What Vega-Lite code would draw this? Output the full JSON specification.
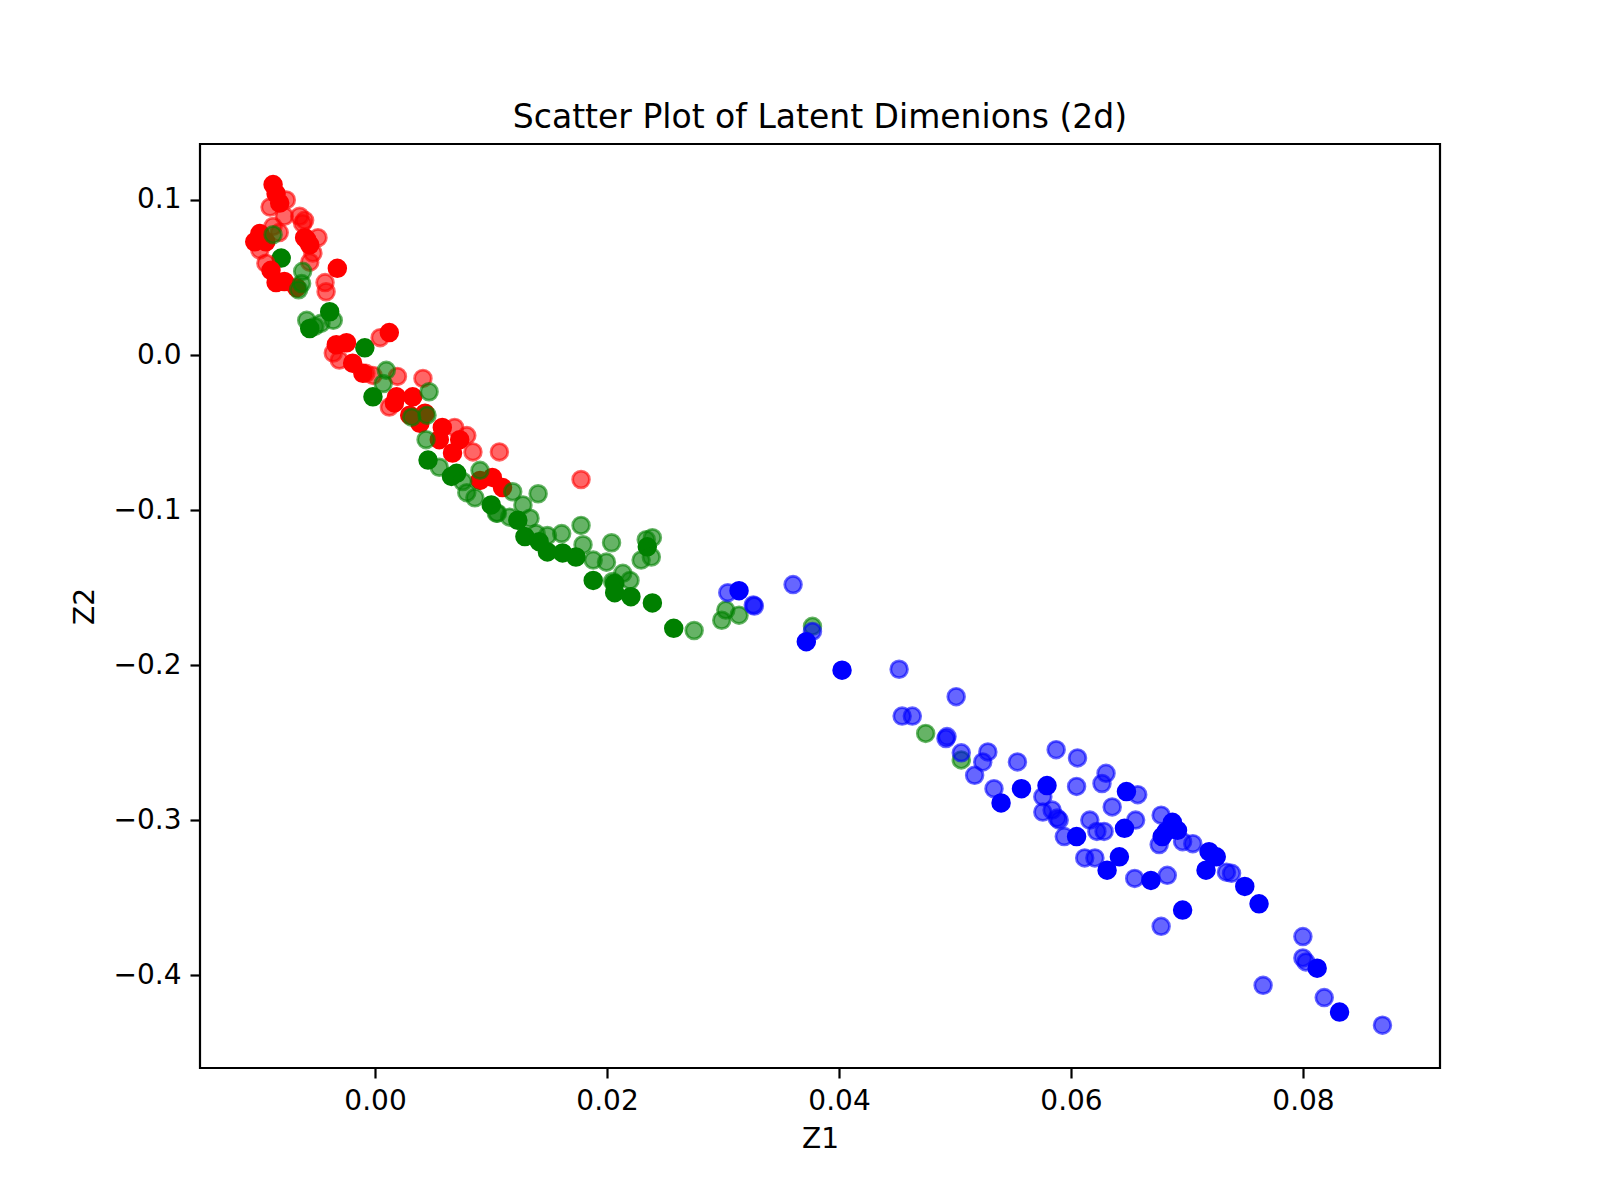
{
  "$schema": "https://vega.github.io/schema/vega-lite/v6.json",
  "description": "Scatter plot of two latent dimensions, three classes, two subsets drawn with different opacity.",
  "width": 1240,
  "height": 924,
  "autosize": "none",
  "padding": {"left": 200, "top": 144, "right": 160, "bottom": 132},
  "background": "white",
  "title": {
    "text": "Scatter Plot of Latent Dimenions (2d)",
    "font": "DejaVu Sans",
    "fontSize": 33,
    "fontWeight": "normal",
    "color": "black",
    "anchor": "middle",
    "offset": 9
  },
  "data": {
    "values": [
      {"z1": -0.00809, "z2": 0.0625, "class": "g", "subset": "solid"},
      {"z1": -0.00391, "z2": 0.0279, "class": "g", "subset": "solid"},
      {"z1": -0.00563, "z2": 0.0171, "class": "g", "subset": "solid"},
      {"z1": -0.00088, "z2": 0.0046, "class": "g", "subset": "solid"},
      {"z1": -0.00018, "z2": -0.027, "class": "g", "subset": "solid"},
      {"z1": 0.00457, "z2": -0.0678, "class": "g", "subset": "solid"},
      {"z1": 0.00703, "z2": -0.0763, "class": "g", "subset": "solid"},
      {"z1": 0.00659, "z2": -0.0783, "class": "g", "subset": "solid"},
      {"z1": 0.01002, "z2": -0.0967, "class": "g", "subset": "solid"},
      {"z1": 0.01231, "z2": -0.1066, "class": "g", "subset": "solid"},
      {"z1": 0.01292, "z2": -0.1171, "class": "g", "subset": "solid"},
      {"z1": 0.01415, "z2": -0.1204, "class": "g", "subset": "solid"},
      {"z1": 0.01486, "z2": -0.127, "class": "g", "subset": "solid"},
      {"z1": 0.01617, "z2": -0.1277, "class": "g", "subset": "solid"},
      {"z1": 0.01732, "z2": -0.1303, "class": "g", "subset": "solid"},
      {"z1": 0.01881, "z2": -0.1454, "class": "g", "subset": "solid"},
      {"z1": 0.02066, "z2": -0.1474, "class": "g", "subset": "solid"},
      {"z1": 0.02066, "z2": -0.1533, "class": "g", "subset": "solid"},
      {"z1": 0.02206, "z2": -0.1559, "class": "g", "subset": "solid"},
      {"z1": 0.02391, "z2": -0.1599, "class": "g", "subset": "solid"},
      {"z1": 0.02347, "z2": -0.1237, "class": "g", "subset": "solid"},
      {"z1": 0.02575, "z2": -0.1763, "class": "g", "subset": "solid"},

      {"z1": -0.00905, "z2": 0.0954, "class": "r", "subset": "light"},
      {"z1": -0.00765, "z2": 0.1, "class": "r", "subset": "light"},
      {"z1": -0.00782, "z2": 0.0895, "class": "r", "subset": "light"},
      {"z1": -0.0065, "z2": 0.0895, "class": "r", "subset": "light"},
      {"z1": -0.00624, "z2": 0.0849, "class": "r", "subset": "light"},
      {"z1": -0.00607, "z2": 0.0869, "class": "r", "subset": "light"},
      {"z1": -0.00879, "z2": 0.0829, "class": "r", "subset": "light"},
      {"z1": -0.00993, "z2": 0.0678, "class": "r", "subset": "light"},
      {"z1": -0.00941, "z2": 0.0592, "class": "r", "subset": "light"},
      {"z1": -0.00492, "z2": 0.0757, "class": "r", "subset": "light"},
      {"z1": -0.00536, "z2": 0.0658, "class": "r", "subset": "light"},
      {"z1": -0.00563, "z2": 0.0599, "class": "r", "subset": "light"},
      {"z1": -0.00431, "z2": 0.0467, "class": "r", "subset": "light"},
      {"z1": -0.00422, "z2": 0.0408, "class": "r", "subset": "light"},
      {"z1": -0.0036, "z2": 0.0013, "class": "r", "subset": "light"},
      {"z1": 0.00044, "z2": 0.0112, "class": "r", "subset": "light"},
      {"z1": -0.00079, "z2": -0.0118, "class": "r", "subset": "light"},
      {"z1": -0.00018, "z2": -0.0132, "class": "r", "subset": "light"},
      {"z1": 0.00193, "z2": -0.0138, "class": "r", "subset": "light"},
      {"z1": 0.00413, "z2": -0.0151, "class": "r", "subset": "light"},
      {"z1": 0.00123, "z2": -0.0336, "class": "r", "subset": "light"},
      {"z1": 0.00686, "z2": -0.0467, "class": "r", "subset": "light"},
      {"z1": 0.00844, "z2": -0.0625, "class": "r", "subset": "light"},
      {"z1": 0.01072, "z2": -0.0625, "class": "r", "subset": "light"},
      {"z1": 0.01776, "z2": -0.0803, "class": "r", "subset": "light"},
      {"z1": 0.00791, "z2": -0.052, "class": "r", "subset": "light"},
      {"z1": -0.00308, "z2": -0.0033, "class": "r", "subset": "light"},
      {"z1": -0.00826, "z2": 0.079, "class": "r", "subset": "light"},

      {"z1": -0.00879, "z2": 0.1099, "class": "r", "subset": "solid"},
      {"z1": -0.00853, "z2": 0.104, "class": "r", "subset": "solid"},
      {"z1": -0.00822, "z2": 0.098, "class": "r", "subset": "solid"},
      {"z1": -0.00993, "z2": 0.0783, "class": "r", "subset": "solid"},
      {"z1": -0.01037, "z2": 0.073, "class": "r", "subset": "solid"},
      {"z1": -0.00941, "z2": 0.073, "class": "r", "subset": "solid"},
      {"z1": -0.00589, "z2": 0.0744, "class": "r", "subset": "solid"},
      {"z1": -0.00563, "z2": 0.0711, "class": "r", "subset": "solid"},
      {"z1": -0.00607, "z2": 0.0757, "class": "r", "subset": "solid"},
      {"z1": -0.00897, "z2": 0.0546, "class": "r", "subset": "solid"},
      {"z1": -0.00853, "z2": 0.0467, "class": "r", "subset": "solid"},
      {"z1": -0.00782, "z2": 0.0474, "class": "r", "subset": "solid"},
      {"z1": -0.00677, "z2": 0.0434, "class": "r", "subset": "solid"},
      {"z1": -0.00325, "z2": 0.0559, "class": "r", "subset": "solid"},
      {"z1": -0.00334, "z2": 0.0066, "class": "r", "subset": "solid"},
      {"z1": -0.00246, "z2": 0.0079, "class": "r", "subset": "solid"},
      {"z1": -0.00193, "z2": -0.0053, "class": "r", "subset": "solid"},
      {"z1": -0.00105, "z2": -0.0118, "class": "r", "subset": "solid"},
      {"z1": 0.00123, "z2": 0.0145, "class": "r", "subset": "solid"},
      {"z1": 0.00185, "z2": -0.027, "class": "r", "subset": "solid"},
      {"z1": 0.00325, "z2": -0.027, "class": "r", "subset": "solid"},
      {"z1": 0.00167, "z2": -0.0309, "class": "r", "subset": "solid"},
      {"z1": 0.00299, "z2": -0.0388, "class": "r", "subset": "solid"},
      {"z1": 0.00431, "z2": -0.0375, "class": "r", "subset": "solid"},
      {"z1": 0.00387, "z2": -0.0441, "class": "r", "subset": "solid"},
      {"z1": 0.0058, "z2": -0.0467, "class": "r", "subset": "solid"},
      {"z1": 0.00554, "z2": -0.0546, "class": "r", "subset": "solid"},
      {"z1": 0.0073, "z2": -0.0546, "class": "r", "subset": "solid"},
      {"z1": 0.00668, "z2": -0.0632, "class": "r", "subset": "solid"},
      {"z1": 0.00905, "z2": -0.0809, "class": "r", "subset": "solid"},
      {"z1": 0.01011, "z2": -0.079, "class": "r", "subset": "solid"},
      {"z1": 0.01099, "z2": -0.0855, "class": "r", "subset": "solid"},

      {"z1": -0.00879, "z2": 0.0776, "class": "g", "subset": "light"},
      {"z1": -0.00624, "z2": 0.054, "class": "g", "subset": "light"},
      {"z1": -0.00633, "z2": 0.0461, "class": "g", "subset": "light"},
      {"z1": -0.00659, "z2": 0.0421, "class": "g", "subset": "light"},
      {"z1": -0.00589, "z2": 0.0224, "class": "g", "subset": "light"},
      {"z1": -0.00466, "z2": 0.0204, "class": "g", "subset": "light"},
      {"z1": -0.0036, "z2": 0.0224, "class": "g", "subset": "light"},
      {"z1": -0.00519, "z2": 0.0184, "class": "g", "subset": "light"},
      {"z1": 0.00097, "z2": -0.0099, "class": "g", "subset": "light"},
      {"z1": 0.0007, "z2": -0.0184, "class": "g", "subset": "light"},
      {"z1": 0.00466, "z2": -0.0237, "class": "g", "subset": "light"},
      {"z1": 0.00316, "z2": -0.0401, "class": "g", "subset": "light"},
      {"z1": 0.00448, "z2": -0.0388, "class": "g", "subset": "light"},
      {"z1": 0.0044, "z2": -0.0546, "class": "g", "subset": "light"},
      {"z1": 0.00554, "z2": -0.0724, "class": "g", "subset": "light"},
      {"z1": 0.00905, "z2": -0.0744, "class": "g", "subset": "light"},
      {"z1": 0.00791, "z2": -0.0888, "class": "g", "subset": "light"},
      {"z1": 0.01187, "z2": -0.0882, "class": "g", "subset": "light"},
      {"z1": 0.01406, "z2": -0.0895, "class": "g", "subset": "light"},
      {"z1": 0.01275, "z2": -0.0967, "class": "g", "subset": "light"},
      {"z1": 0.01046, "z2": -0.102, "class": "g", "subset": "light"},
      {"z1": 0.0116, "z2": -0.1046, "class": "g", "subset": "light"},
      {"z1": 0.01336, "z2": -0.1053, "class": "g", "subset": "light"},
      {"z1": 0.01389, "z2": -0.1152, "class": "g", "subset": "light"},
      {"z1": 0.01486, "z2": -0.1165, "class": "g", "subset": "light"},
      {"z1": 0.01609, "z2": -0.1152, "class": "g", "subset": "light"},
      {"z1": 0.01776, "z2": -0.1099, "class": "g", "subset": "light"},
      {"z1": 0.01793, "z2": -0.1224, "class": "g", "subset": "light"},
      {"z1": 0.01881, "z2": -0.1323, "class": "g", "subset": "light"},
      {"z1": 0.01995, "z2": -0.1336, "class": "g", "subset": "light"},
      {"z1": 0.02039, "z2": -0.1211, "class": "g", "subset": "light"},
      {"z1": 0.02136, "z2": -0.1408, "class": "g", "subset": "light"},
      {"z1": 0.02198, "z2": -0.1454, "class": "g", "subset": "light"},
      {"z1": 0.02048, "z2": -0.1461, "class": "g", "subset": "light"},
      {"z1": 0.02338, "z2": -0.1191, "class": "g", "subset": "light"},
      {"z1": 0.02391, "z2": -0.1178, "class": "g", "subset": "light"},
      {"z1": 0.02294, "z2": -0.1323, "class": "g", "subset": "light"},
      {"z1": 0.02382, "z2": -0.1303, "class": "g", "subset": "light"},
      {"z1": 0.02751, "z2": -0.1777, "class": "g", "subset": "light"},
      {"z1": 0.02989, "z2": -0.1711, "class": "g", "subset": "light"},
      {"z1": 0.03024, "z2": -0.1645, "class": "g", "subset": "light"},
      {"z1": 0.03138, "z2": -0.1678, "class": "g", "subset": "light"},
      {"z1": 0.03771, "z2": -0.175, "class": "g", "subset": "light"},
      {"z1": 0.04747, "z2": -0.2441, "class": "g", "subset": "light"},
      {"z1": 0.05054, "z2": -0.2612, "class": "g", "subset": "light"},
      {"z1": 0.00756, "z2": -0.0816, "class": "g", "subset": "light"},
      {"z1": 0.00861, "z2": -0.0921, "class": "g", "subset": "light"},
      {"z1": 0.01055, "z2": -0.102, "class": "g", "subset": "light"},

      {"z1": 0.03041, "z2": -0.1533, "class": "b", "subset": "light"},
      {"z1": 0.0327, "z2": -0.1619, "class": "b", "subset": "light"},
      {"z1": 0.03261, "z2": -0.1612, "class": "b", "subset": "light"},
      {"z1": 0.03604, "z2": -0.1481, "class": "b", "subset": "light"},
      {"z1": 0.03771, "z2": -0.1783, "class": "b", "subset": "light"},
      {"z1": 0.04518, "z2": -0.2027, "class": "b", "subset": "light"},
      {"z1": 0.0501, "z2": -0.2204, "class": "b", "subset": "light"},
      {"z1": 0.04544, "z2": -0.2329, "class": "b", "subset": "light"},
      {"z1": 0.04632, "z2": -0.2329, "class": "b", "subset": "light"},
      {"z1": 0.04931, "z2": -0.2461, "class": "b", "subset": "light"},
      {"z1": 0.04922, "z2": -0.2474, "class": "b", "subset": "light"},
      {"z1": 0.05054, "z2": -0.2566, "class": "b", "subset": "light"},
      {"z1": 0.05283, "z2": -0.256, "class": "b", "subset": "light"},
      {"z1": 0.05239, "z2": -0.2625, "class": "b", "subset": "light"},
      {"z1": 0.05169, "z2": -0.2711, "class": "b", "subset": "light"},
      {"z1": 0.05538, "z2": -0.2625, "class": "b", "subset": "light"},
      {"z1": 0.05336, "z2": -0.2797, "class": "b", "subset": "light"},
      {"z1": 0.05872, "z2": -0.2546, "class": "b", "subset": "light"},
      {"z1": 0.06056, "z2": -0.2599, "class": "b", "subset": "light"},
      {"z1": 0.06048, "z2": -0.2783, "class": "b", "subset": "light"},
      {"z1": 0.05757, "z2": -0.2849, "class": "b", "subset": "light"},
      {"z1": 0.05757, "z2": -0.2948, "class": "b", "subset": "light"},
      {"z1": 0.05837, "z2": -0.2935, "class": "b", "subset": "light"},
      {"z1": 0.05898, "z2": -0.3, "class": "b", "subset": "light"},
      {"z1": 0.05942, "z2": -0.3106, "class": "b", "subset": "light"},
      {"z1": 0.05881, "z2": -0.2987, "class": "b", "subset": "light"},
      {"z1": 0.06302, "z2": -0.2698, "class": "b", "subset": "light"},
      {"z1": 0.06267, "z2": -0.2764, "class": "b", "subset": "light"},
      {"z1": 0.06575, "z2": -0.2836, "class": "b", "subset": "light"},
      {"z1": 0.06355, "z2": -0.2915, "class": "b", "subset": "light"},
      {"z1": 0.06162, "z2": -0.3, "class": "b", "subset": "light"},
      {"z1": 0.06223, "z2": -0.3073, "class": "b", "subset": "light"},
      {"z1": 0.06285, "z2": -0.3073, "class": "b", "subset": "light"},
      {"z1": 0.06557, "z2": -0.3, "class": "b", "subset": "light"},
      {"z1": 0.06118, "z2": -0.3244, "class": "b", "subset": "light"},
      {"z1": 0.06206, "z2": -0.3244, "class": "b", "subset": "light"},
      {"z1": 0.06549, "z2": -0.3376, "class": "b", "subset": "light"},
      {"z1": 0.0683, "z2": -0.3356, "class": "b", "subset": "light"},
      {"z1": 0.06777, "z2": -0.2968, "class": "b", "subset": "light"},
      {"z1": 0.0676, "z2": -0.3158, "class": "b", "subset": "light"},
      {"z1": 0.06962, "z2": -0.3139, "class": "b", "subset": "light"},
      {"z1": 0.0705, "z2": -0.3152, "class": "b", "subset": "light"},
      {"z1": 0.0734, "z2": -0.3336, "class": "b", "subset": "light"},
      {"z1": 0.07384, "z2": -0.3343, "class": "b", "subset": "light"},
      {"z1": 0.06777, "z2": -0.3685, "class": "b", "subset": "light"},
      {"z1": 0.07999, "z2": -0.3751, "class": "b", "subset": "light"},
      {"z1": 0.07999, "z2": -0.3889, "class": "b", "subset": "light"},
      {"z1": 0.08025, "z2": -0.3915, "class": "b", "subset": "light"},
      {"z1": 0.07656, "z2": -0.4066, "class": "b", "subset": "light"},
      {"z1": 0.08183, "z2": -0.4145, "class": "b", "subset": "light"},
      {"z1": 0.08685, "z2": -0.4323, "class": "b", "subset": "light"},

      {"z1": 0.03138, "z2": -0.152, "class": "b", "subset": "solid"},
      {"z1": 0.03718, "z2": -0.1849, "class": "b", "subset": "solid"},
      {"z1": 0.04026, "z2": -0.2033, "class": "b", "subset": "solid"},
      {"z1": 0.05397, "z2": -0.2889, "class": "b", "subset": "solid"},
      {"z1": 0.05573, "z2": -0.2797, "class": "b", "subset": "solid"},
      {"z1": 0.05793, "z2": -0.2777, "class": "b", "subset": "solid"},
      {"z1": 0.06048, "z2": -0.3106, "class": "b", "subset": "solid"},
      {"z1": 0.06478, "z2": -0.2816, "class": "b", "subset": "solid"},
      {"z1": 0.06461, "z2": -0.3053, "class": "b", "subset": "solid"},
      {"z1": 0.06417, "z2": -0.3237, "class": "b", "subset": "solid"},
      {"z1": 0.06311, "z2": -0.3323, "class": "b", "subset": "solid"},
      {"z1": 0.06689, "z2": -0.3389, "class": "b", "subset": "solid"},
      {"z1": 0.06874, "z2": -0.3014, "class": "b", "subset": "solid"},
      {"z1": 0.06821, "z2": -0.3073, "class": "b", "subset": "solid"},
      {"z1": 0.06786, "z2": -0.3106, "class": "b", "subset": "solid"},
      {"z1": 0.06918, "z2": -0.3066, "class": "b", "subset": "solid"},
      {"z1": 0.0719, "z2": -0.3204, "class": "b", "subset": "solid"},
      {"z1": 0.07252, "z2": -0.3237, "class": "b", "subset": "solid"},
      {"z1": 0.07164, "z2": -0.3323, "class": "b", "subset": "solid"},
      {"z1": 0.06962, "z2": -0.358, "class": "b", "subset": "solid"},
      {"z1": 0.07498, "z2": -0.3428, "class": "b", "subset": "solid"},
      {"z1": 0.07621, "z2": -0.354, "class": "b", "subset": "solid"},
      {"z1": 0.08122, "z2": -0.3955, "class": "b", "subset": "solid"},
      {"z1": 0.08315, "z2": -0.4238, "class": "b", "subset": "solid"}
    ]
  },
  "mark": {"type": "circle", "size": 279, "strokeWidth": 2.8, "opacity": 1},
  "encoding": {
    "x": {
      "field": "z1",
      "type": "quantitative",
      "scale": {"domain": [-0.01509, 0.09181], "zero": false, "nice": false},
      "axis": {"title": "Z1", "values": [0, 0.02, 0.04, 0.06, 0.08], "format": ".2f", "titlePadding": 10}
    },
    "y": {
      "field": "z2",
      "type": "quantitative",
      "scale": {"domain": [-0.4599, 0.1361], "zero": false, "nice": false},
      "axis": {"title": "Z2", "values": [-0.4, -0.3, -0.2, -0.1, 0, 0.1], "format": ".1f", "titlePadding": 14}
    },
    "fill": {
      "field": "class",
      "type": "nominal",
      "scale": {"domain": ["r", "g", "b"], "range": ["#ff0000", "#008000", "#0000ff"]},
      "legend": null
    },
    "stroke": {
      "field": "class",
      "type": "nominal",
      "scale": {"domain": ["r", "g", "b"], "range": ["#ff0000", "#008000", "#0000ff"]},
      "legend": null
    },
    "fillOpacity": {
      "field": "subset",
      "type": "nominal",
      "scale": {"domain": ["light", "solid"], "range": [0.6, 1]},
      "legend": null
    },
    "strokeOpacity": {
      "field": "subset",
      "type": "nominal",
      "scale": {"domain": ["light", "solid"], "range": [0.6, 1]},
      "legend": null
    }
  },
  "config": {
    "view": {"stroke": "black", "strokeWidth": 2.2},
    "axis": {
      "domain": false,
      "grid": false,
      "labelFont": "DejaVu Sans",
      "labelFontSize": 28,
      "labelColor": "black",
      "labelPadding": 9,
      "tickColor": "black",
      "tickSize": 10,
      "tickWidth": 2.2,
      "titleFont": "DejaVu Sans",
      "titleFontSize": 28,
      "titleFontWeight": "normal",
      "titleColor": "black"
    }
  }
}
